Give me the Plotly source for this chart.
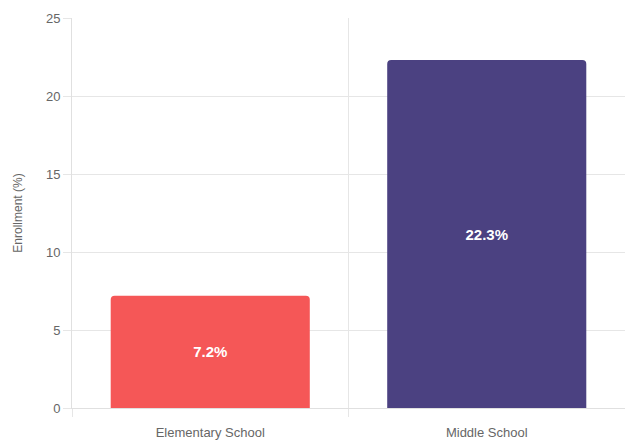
import plotly.graph_objects as go

categories = ["Elementary School", "Middle School"]
values = [7.2, 22.3]
colors = ["#F55757", "#4B4181"]
labels = [f"{v}%" for v in values]
y_ticks = [0, 5, 10, 15, 20, 25]

fig = go.Figure()
fig.add_trace(go.Bar(
    x=categories,
    y=values,
    marker=dict(color=colors, cornerradius=4, line=dict(width=0)),
    text=labels,
    textposition="inside",
    insidetextanchor="middle",
    textfont=dict(color="white", size=15, family="Liberation Sans, Arial, sans-serif", weight="bold"),
    hoverinfo="skip",
))

fig.update_layout(
    width=625, height=442,
    margin=dict(l=72, r=0, t=18, b=34),
    paper_bgcolor="white",
    plot_bgcolor="white",
    bargap=0.28,
    showlegend=False,
    font=dict(family="Liberation Sans, Arial, sans-serif", size=12, color="#666666"),
)
fig.update_yaxes(
    range=[0, 25],
    tickvals=y_ticks,
    showgrid=True,
    gridcolor="#e6e6e6",
    gridwidth=1,
    zeroline=False,
    showline=True,
    linecolor="#e0e0e0",
    ticks="outside",
    ticklen=8,
    tickcolor="#e6e6e6",
    tickfont=dict(size=13, color="#666666"),
    title=dict(text="Enrollment (%)", font=dict(size=12, color="#666666"), standoff=20),
)
fig.update_xaxes(
    showgrid=True,
    gridcolor="#e6e6e6",
    tickson="boundaries",
    ticks="outside",
    ticklen=8,
    tickcolor="#e6e6e6",
    showline=True,
    linecolor="#e0e0e0",
    ticklabelstandoff=12,
    tickfont=dict(size=13, color="#666666"),
)

fig.write_html("out.html")
